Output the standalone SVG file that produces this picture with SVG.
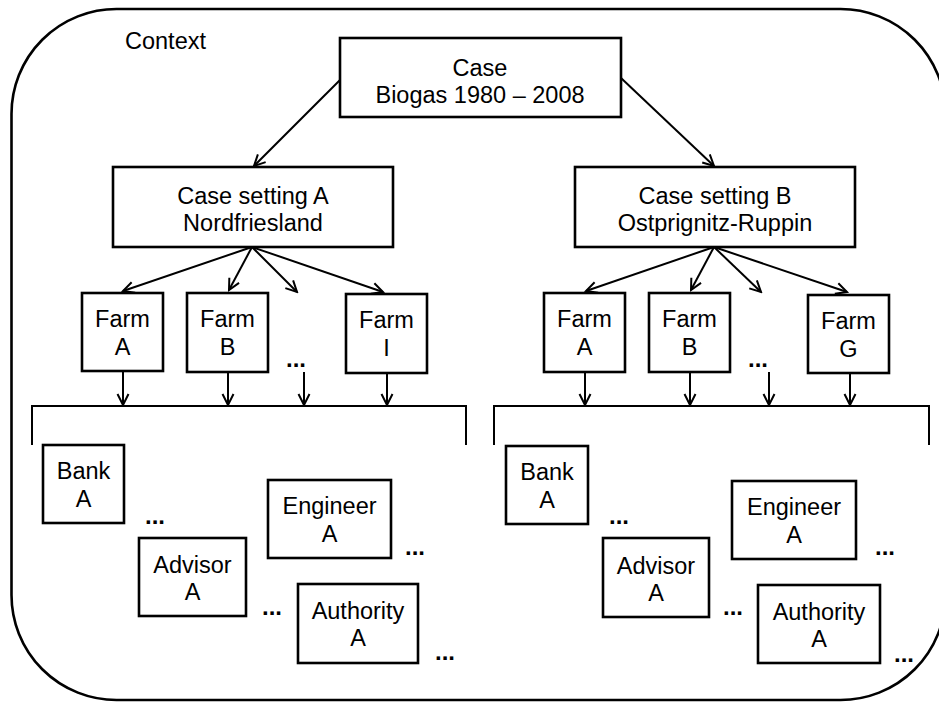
<svg xmlns="http://www.w3.org/2000/svg" width="939" height="702" viewBox="0 0 939 702">
<defs>
<marker id="ah" markerUnits="userSpaceOnUse" markerWidth="14" markerHeight="14" viewBox="0 0 14 14" refX="12" refY="7" orient="auto">
<path d="M1,1.5 L12,7 L1,12.5" fill="none" stroke="#000" stroke-width="2"/>
</marker>
</defs>
<style>
text{font-family:"Liberation Sans",Arial,Helvetica,sans-serif;font-size:23.5px;fill:#000;text-anchor:middle}
.box{fill:#fff;stroke:#000;stroke-width:2.6}
.c{fill:none;stroke:#000;stroke-width:2}
.ar{fill:none;stroke:#000;stroke-width:2;marker-end:url(#ah)}
.dots{font-weight:bold;font-size:24px}
</style>
<rect width="939" height="702" fill="#fff"/>
<g id="context">
<rect x="11.5" y="9" width="934" height="691" rx="105" ry="105" fill="none" stroke="#000" stroke-width="2.6"/>
<text x="125" y="49" style="text-anchor:start">Context</text>
</g>
<g id="connectors">
<path class="ar" d="M340,80 L254,166"/>
<path class="ar" d="M621,78 L714,166"/>
<path class="ar" d="M252,247 L123,291"/>
<path class="ar" d="M252,247 L229,290"/>
<path class="ar" d="M252,247 L297,292"/>
<path class="ar" d="M252,247 L383,292"/>
<path class="ar" d="M714,247 L586,291"/>
<path class="ar" d="M714,247 L691,290"/>
<path class="ar" d="M714,247 L761,292"/>
<path class="ar" d="M714,247 L847,292"/>
<path class="ar" d="M123,372 V405"/>
<path class="ar" d="M228,372 V405"/>
<path class="ar" d="M304,372 V405"/>
<path class="ar" d="M387,373 V405"/>
<path class="ar" d="M585,373 V405"/>
<path class="ar" d="M690,373 V405"/>
<path class="ar" d="M769,372 V405"/>
<path class="ar" d="M850,374 V405"/>
<path class="c" d="M32,445 V406 H466 V445" stroke-width="2.4"/>
<path class="c" d="M494,445 V406 H929 V445" stroke-width="2.4"/>
</g>
<g id="case">
<rect class="box" x="340" y="38" width="281" height="79"/>
<text x="480" y="76">Case</text>
<text x="480" y="103">Biogas 1980 – 2008</text>
</g>
<g id="settingA">
<rect class="box" x="113" y="167" width="280" height="80"/>
<text x="253" y="204">Case setting A</text>
<text x="253" y="231">Nordfriesland</text>
</g>
<g id="settingB">
<rect class="box" x="575" y="167" width="280" height="80"/>
<text x="715" y="204">Case setting B</text>
<text x="715" y="231">Ostprignitz-Ruppin</text>
</g>
<g id="farmA1">
<rect class="box" x="82" y="293" width="81" height="78"/>
<text x="122.5" y="327">Farm</text>
<text x="122.5" y="355">A</text>
</g>
<g id="farmB1">
<rect class="box" x="187" y="293" width="81" height="79"/>
<text x="227.5" y="327">Farm</text>
<text x="227.5" y="355">B</text>
</g>
<g id="farmDots1"><text class="dots" x="296" y="367">...</text></g>
<g id="farmI1">
<rect class="box" x="346" y="294" width="81" height="79"/>
<text x="386.5" y="328">Farm</text>
<text x="386.5" y="356">I</text>
</g>
<g id="farmA2">
<rect class="box" x="544" y="293" width="81" height="79"/>
<text x="584.5" y="327">Farm</text>
<text x="584.5" y="355">A</text>
</g>
<g id="farmB2">
<rect class="box" x="649" y="293" width="81" height="79"/>
<text x="689.5" y="327">Farm</text>
<text x="689.5" y="355">B</text>
</g>
<g id="farmDots2"><text class="dots" x="758" y="367">...</text></g>
<g id="farmG2">
<rect class="box" x="808" y="295" width="81" height="78"/>
<text x="848.5" y="329">Farm</text>
<text x="848.5" y="357">G</text>
</g>
<g id="bankA1">
<rect class="box" x="43" y="445" width="81" height="78"/>
<text x="83.5" y="479">Bank</text>
<text x="83.5" y="507">A</text>
</g>
<g id="advisorA1">
<rect class="box" x="139" y="538" width="107" height="78"/>
<text x="192.5" y="573">Advisor</text>
<text x="192.5" y="600">A</text>
</g>
<g id="engineerA1">
<rect class="box" x="268" y="480" width="123" height="78"/>
<text x="329.5" y="514">Engineer</text>
<text x="329.5" y="542">A</text>
</g>
<g id="authorityA1">
<rect class="box" x="298" y="584" width="120" height="79"/>
<text x="358" y="619">Authority</text>
<text x="358" y="646">A</text>
</g>
<g id="dots1">
<text class="dots" x="155" y="524">...</text>
<text class="dots" x="415" y="555">...</text>
<text class="dots" x="272" y="615">...</text>
<text class="dots" x="445" y="660">...</text>
</g>
<g id="bankA2">
<rect class="box" x="506" y="446" width="82" height="78"/>
<text x="547" y="480">Bank</text>
<text x="547" y="508">A</text>
</g>
<g id="advisorA2">
<rect class="box" x="603" y="538" width="106" height="79"/>
<text x="656" y="574">Advisor</text>
<text x="656" y="601">A</text>
</g>
<g id="engineerA2">
<rect class="box" x="732" y="481" width="124" height="78"/>
<text x="794" y="515">Engineer</text>
<text x="794" y="543">A</text>
</g>
<g id="authorityA2">
<rect class="box" x="758" y="585" width="122" height="78"/>
<text x="819" y="620">Authority</text>
<text x="819" y="647">A</text>
</g>
<g id="dots2">
<text class="dots" x="619" y="524">...</text>
<text class="dots" x="885" y="555">...</text>
<text class="dots" x="733" y="615">...</text>
<text class="dots" x="904" y="662">...</text>
</g>
</svg>
